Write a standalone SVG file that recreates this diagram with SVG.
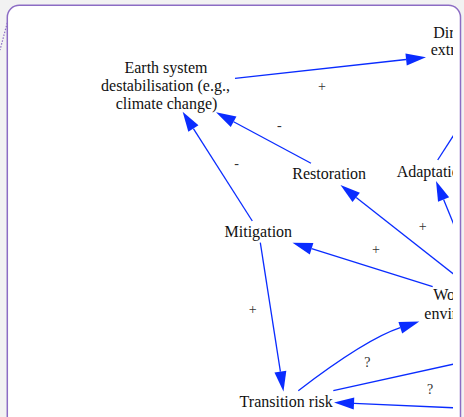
<svg xmlns="http://www.w3.org/2000/svg" width="464" height="417" viewBox="0 0 464 417">
<style>
.n{font-family:"Liberation Serif","Times New Roman",serif;font-size:16px;fill:#111;text-anchor:middle}
.ns{font-family:"Liberation Serif","Times New Roman",serif;font-size:16px;fill:#111}
.lb{font-family:"Liberation Serif","Times New Roman",serif;font-size:14px;fill:#333;text-anchor:middle}
.e{stroke:#0a2cff;stroke-width:1.3;fill:none}
</style>
<defs>
<marker id="ah" markerUnits="userSpaceOnUse" markerWidth="20" markerHeight="12" viewBox="0 0 20 12" refX="0" refY="6" orient="auto" overflow="visible">
<path d="M0,0 L20,6 L0,12 z" fill="#0a2cff"/>
</marker>
<clipPath id="cp"><rect x="0" y="0" width="453" height="417"/></clipPath>
</defs>
<rect x="0" y="0" width="464" height="417" fill="#f2f2f2"/>
<line x1="8" y1="20" x2="0" y2="50" stroke="#8c6cc4" stroke-width="1.2" stroke-dasharray="1.5 1.5"/>
<rect x="7.3" y="5.3" width="453.2" height="440" rx="12" fill="#fff" stroke="#8c6cc4" stroke-width="1.5"/>
<g clip-path="url(#cp)">
<g id="connectors">
<line class="e" x1="235" y1="78.3" x2="406.1" y2="59.5" marker-end="url(#ah)"/>
<line class="e" x1="311" y1="163.3" x2="233.6" y2="121.8" marker-end="url(#ah)"/>
<line class="e" x1="252.3" y1="221" x2="193.4" y2="128.6" marker-end="url(#ah)"/>
<line class="e" x1="437.7" y1="160" x2="467.7" y2="113.4"/>
<line class="e" x1="461" y1="242" x2="443.6" y2="199.5" marker-end="url(#ah)"/>
<line class="e" x1="465" y1="283" x2="356.2" y2="197.4" marker-end="url(#ah)"/>
<line class="e" x1="432.7" y1="286.7" x2="311.6" y2="248.7" marker-end="url(#ah)"/>
<line class="e" x1="260.3" y1="242.7" x2="280.4" y2="371.7" marker-end="url(#ah)"/>
<path class="e" d="M298.3,390.7 Q366,339 400.3,327.7" marker-end="url(#ah)"/>
<line class="e" x1="333.3" y1="390.7" x2="470" y2="360.5"/>
<line class="e" x1="470" y1="408.5" x2="354" y2="403.4" marker-end="url(#ah)"/>
<text class="lb" x="322" y="91">+</text>
<text class="lb" x="279.3" y="130">-</text>
<text class="lb" x="236.7" y="168.3">-</text>
<text class="lb" x="422.7" y="230.7">+</text>
<text class="lb" x="376" y="254">+</text>
<text class="lb" x="252.7" y="314">+</text>
<text class="lb" x="367.3" y="366.5">?</text>
<text class="lb" x="430" y="394">?</text>
</g>
<g id="earth">
<text class="n" x="166" y="72.7">Earth system</text>
<text class="n" x="165.5" y="90.7">destabilisation (e.g.,</text>
<text class="n" x="166.5" y="108.7">climate change)</text>
</g>
<g id="direct">
<text class="ns" x="433.3" y="37.5">Dir</text>
<text class="ns" x="430.7" y="55.3">extr</text>
</g>
<g id="restoration"><text class="n" x="329.2" y="178.7">Restoration</text></g>
<g id="adaptation"><text class="ns" x="396.7" y="176.6">Adaptatio</text></g>
<g id="mitigation"><text class="n" x="258.3" y="237.3">Mitigation</text></g>
<g id="world">
<text class="ns" x="433.3" y="300.3">Wo</text>
<text class="ns" x="424.3" y="319.3">envir</text>
</g>
<g id="transition"><text class="n" x="286.2" y="406.7">Transition risk</text></g>
</g>
</svg>
